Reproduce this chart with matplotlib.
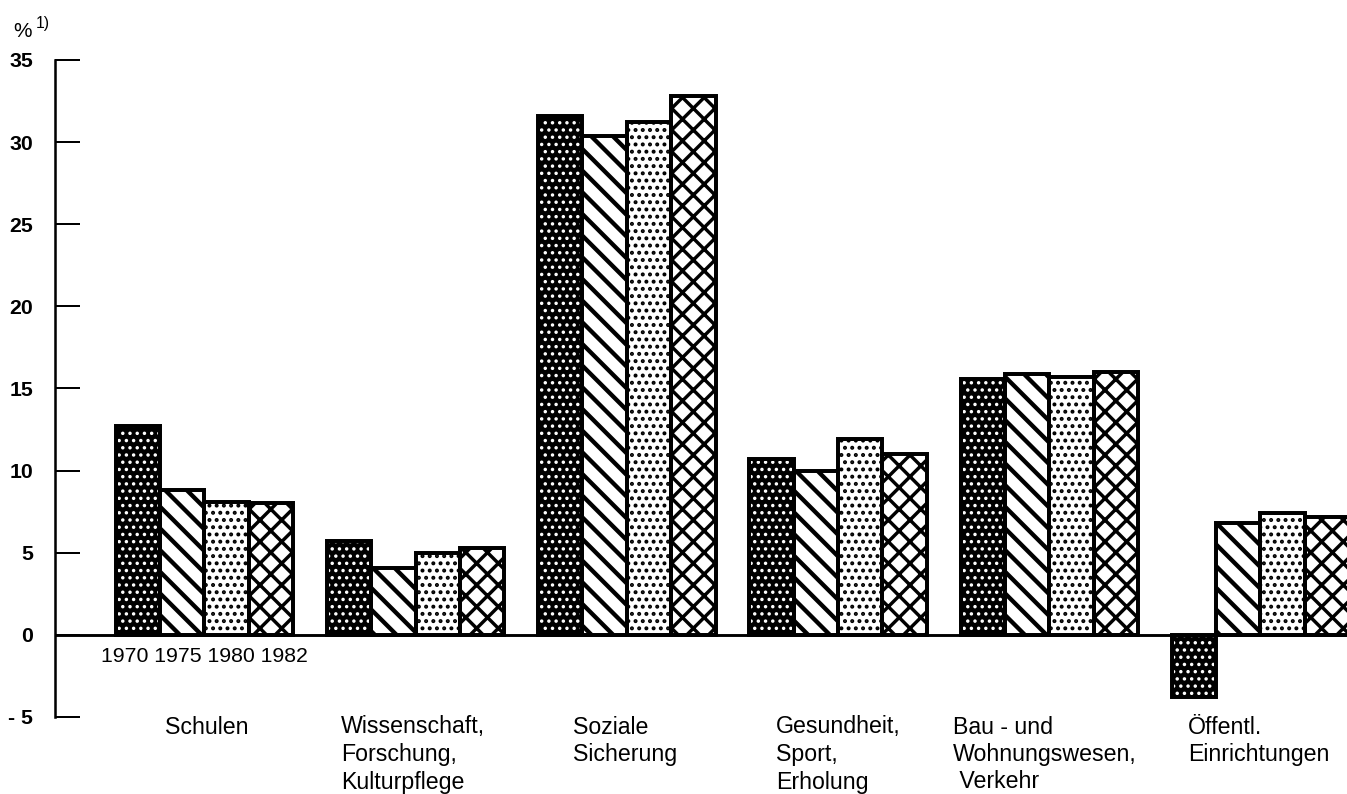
import matplotlib.pyplot as plt
import numpy as np

plt.rcParams['font.family'] = ['Liberation Sans', 'DejaVu Sans']

# Ausgaben nach Aufgabenbereichen, Anteil in %
bereiche = ["Schulen",
            "Wissenschaft,\nForschung,\nKulturpflege",
            "Soziale\nSicherung",
            "Gesundheit,\nSport,\nErholung",
            "Bau - und\nWohnungswesen,\n Verkehr",
            "Öffentl.\nEinrichtungen"]
jahre = ["1970", "1975", "1980", "1982"]
werte_1970 = [12.7, 5.7, 31.6, 10.7, 15.6, -3.8]
werte_1975 = [8.8, 4.1, 30.4, 10.0, 15.9, 6.8]
werte_1980 = [8.1, 5.0, 31.2, 11.9, 15.7, 7.4]
werte_1982 = [8.0, 5.3, 32.8, 11.0, 16.0, 7.2]
y_ticks = [-5, 0, 5, 10, 15, 20, 25, 30, 35]
y_tick_labels = ["- 5", "0", "5", "10", "15", "20", "25", "30", "35"]

# Abstand der Beschriftung vom linken Gruppenrand (Gruppenbreiten-Einheiten)
label_dx = [0.232, 0.066, 0.164, 0.128, -0.037, 0.076]

DPI = 130
breite = 0.21

fig = plt.figure(figsize=(1347 / DPI, 794 / DPI), dpi=DPI)
ax = fig.add_axes([54.5 / 1347, 77 / 794, (1347 - 54.5) / 1347, 657 / 794])

x = np.arange(len(bereiche))


def balken(werte, pos, face, hatch, hatch_color, hatch_lw):
    with plt.rc_context({'hatch.linewidth': hatch_lw}):
        bars = ax.bar(x + pos, werte, breite, color=face, edgecolor=hatch_color,
                      hatch=hatch, linewidth=0, zorder=2)
    for b in bars:
        if hasattr(b, 'set_hatch_linewidth'):
            b.set_hatch_linewidth(hatch_lw)
    ax.bar(x + pos, werte, breite, fill=False, edgecolor='black',
           linewidth=2.2, zorder=3)


plt.rcParams['hatch.linewidth'] = 1.0
balken(werte_1970, -1.5 * breite, 'black', '...', 'white', 1.1)
balken(werte_1975, -0.5 * breite, 'white', '\\\\', 'black', 2.4)
balken(werte_1980, 0.5 * breite, 'white', '...', 'black', 1.4)
balken(werte_1982, 1.5 * breite, 'white', 'xx', 'black', 1.9)

ax.axhline(0, color='black', linewidth=1.6, zorder=4)

ax.set_xlim(-0.71, 5.41)
ax.set_ylim(-5, 35)
ax.set_yticks(y_ticks)
ax.set_yticklabels(y_tick_labels, fontsize=11.8, fontweight='bold')
ax.tick_params(axis='y', direction='in', length=13.8, width=1.1, pad=11.9)
ax.set_xticks([])
for s in ['top', 'right', 'bottom']:
    ax.spines[s].set_visible(False)
ax.spines['left'].set_linewidth(1.4)

# Jahreszahlen unter der ersten Gruppe
ax.text(x[0], -1.64, " ".join(jahre), ha='center', va='baseline', fontsize=11.8)

# Bereichsnamen, jede Zeile einzeln
tr = ax.get_xaxis_transform()
for i, name in enumerate(bereiche):
    for k, zeile in enumerate(name.split("\n")):
        yb = (717 - (733.5 + 27.5 * k)) / 657
        ax.text(x[i] - 2 * breite + label_dx[i], yb, zeile, transform=tr,
                ha='left', va='baseline', fontsize=12.8)

fig.text(13 / 1347, 1 - 37 / 794, "%", fontsize=11.5, va='baseline')
fig.text(36 / 1347, 1 - 28 / 794, "1)", fontsize=8.7, va='baseline')

fig.savefig("out.png", dpi=DPI)
